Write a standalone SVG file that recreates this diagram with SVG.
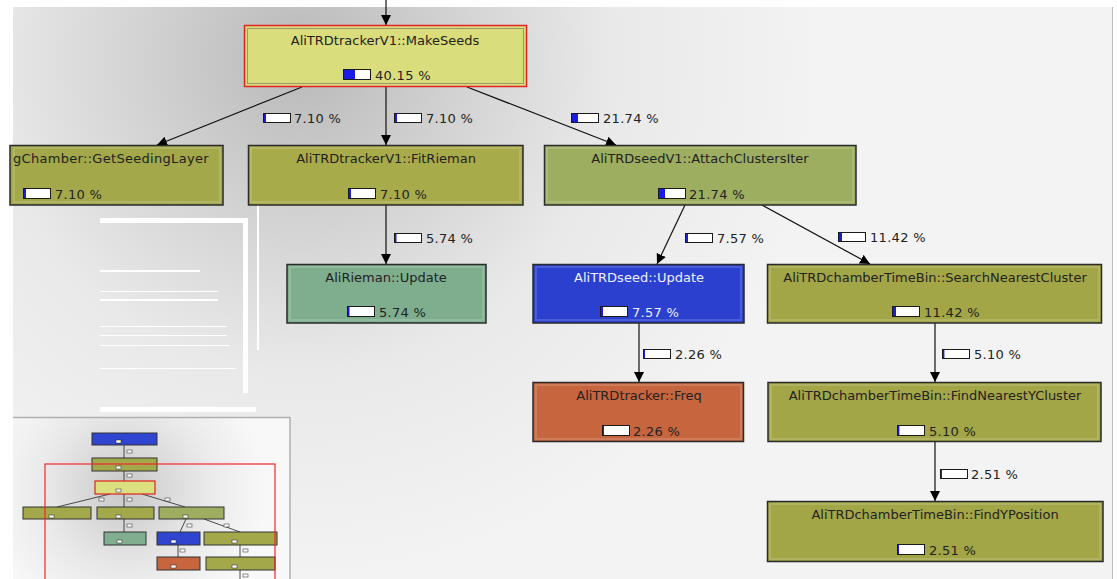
<svg xmlns="http://www.w3.org/2000/svg" width="1117" height="579" viewBox="0 0 1117 579">
<style>
.title{font-family:"DejaVu Sans",Verdana,sans-serif;font-size:13px;fill:#222;text-anchor:middle}
.pct{font-family:"DejaVu Sans",Verdana,sans-serif;font-size:13px;fill:#222;letter-spacing:0.3px}
.wt{fill:#eef0ff}
.node{stroke:#2a2a2a;stroke-width:1.5}
.inner{fill:none;stroke:#ffffff;stroke-opacity:0.15;stroke-width:2}
.bar{fill:#ffffff;stroke:#1a1a1a;stroke-width:1}
.fill{fill:#1b1be6}
.edge{fill:none;stroke:#111;stroke-width:1.2;marker-end:url(#arr)}
.art{fill:#ffffff}
.mm{stroke:#333;stroke-width:1}
.mme{stroke:#222;stroke-width:0.8;fill:none}
</style>
<defs>
<marker id="arr" markerWidth="11" markerHeight="11" refX="10" refY="5" orient="auto" markerUnits="userSpaceOnUse">
<path d="M0,0 L10,5 L0,10 z" fill="#000"/>
</marker>
<radialGradient id="bg" cx="300" cy="60" r="520" gradientUnits="userSpaceOnUse">
<stop offset="0" stop-color="#b9b9b9"/>
<stop offset="0.3" stop-color="#d2d2d2"/>
<stop offset="0.6" stop-color="#e9e9e9"/>
<stop offset="1" stop-color="#f3f3f3"/>
</radialGradient>
<radialGradient id="mmbg" cx="125" cy="490" r="140" gradientUnits="userSpaceOnUse">
<stop offset="0" stop-color="#c8c8c8"/>
<stop offset="0.6" stop-color="#eaeaea"/>
<stop offset="1" stop-color="#f8f8f8"/>
</radialGradient>
</defs>
<rect width="1117" height="579" fill="#ffffff"/>
<rect x="13" y="7" width="1099" height="572" fill="url(#bg)"/>
<line x1="1112.5" y1="7" x2="1112.5" y2="579" stroke="#bdbdbd" stroke-width="1"/>

<!-- artifacts -->
<g id="artifacts">
<rect class="art" x="100" y="218" width="148" height="5"/>
<rect class="art" x="243" y="218" width="5" height="175"/>
<rect class="art" x="100" y="270" width="100" height="2"/>
<rect class="art" x="100" y="291" width="118" height="1"/>
<rect class="art" x="100" y="299" width="118" height="2"/>
<rect class="art" x="100" y="326" width="127" height="1"/>
<rect class="art" x="100" y="335" width="127" height="1"/>
<rect class="art" x="100" y="345" width="129" height="1"/>
<rect class="art" x="100" y="368" width="136" height="1"/>
<rect class="art" x="100" y="407" width="156" height="5"/>
<rect class="art" x="257" y="145" width="2" height="205"/>
</g>

<!-- minimap -->
<g id="minimap">
<rect x="13" y="417" width="277" height="162" fill="url(#mmbg)"/>
<line x1="13" y1="417.5" x2="290" y2="417.5" stroke="#b0b0b0" stroke-width="1.5"/>
<line x1="290" y1="417" x2="290" y2="579" stroke="#b0b0b0" stroke-width="1.5"/>
<line class="mme" x1="124" y1="445" x2="124" y2="458"/>
<line class="mme" x1="124" y1="471" x2="124" y2="481"/>
<line class="mme" x1="110" y1="494" x2="57" y2="507"/>
<line class="mme" x1="124" y1="494" x2="124" y2="507"/>
<line class="mme" x1="142" y1="494" x2="185" y2="507"/>
<line class="mme" x1="124" y1="519" x2="124" y2="532"/>
<line class="mme" x1="186" y1="519" x2="180" y2="532"/>
<line class="mme" x1="204" y1="519" x2="240" y2="532"/>
<line class="mme" x1="178" y1="545" x2="178" y2="557"/>
<line class="mme" x1="240" y1="545" x2="240" y2="557"/>
<line class="mme" x1="240" y1="570" x2="240" y2="579"/>
<rect class="mm" x="92" y="433" width="65" height="12" fill="#2f45cf"/>
<rect class="mm" x="92" y="458" width="65" height="13" fill="#a3a84a"/>
<rect x="95" y="481" width="60" height="13" fill="#dde07f" stroke="#e02020" stroke-width="1.2"/>
<rect class="mm" x="23" y="507" width="68" height="12" fill="#a3a84a"/>
<rect class="mm" x="97" y="507" width="57" height="12" fill="#a3a84a"/>
<rect class="mm" x="159" y="507" width="65" height="12" fill="#9eae60"/>
<rect class="mm" x="104" y="532" width="42" height="13" fill="#80ae8e"/>
<rect class="mm" x="157" y="532" width="43" height="13" fill="#2f45cf"/>
<rect class="mm" x="204" y="532" width="73" height="13" fill="#a3a84a"/>
<rect class="mm" x="157" y="557" width="43" height="13" fill="#c7653f"/>
<rect class="mm" x="206" y="557" width="69" height="13" fill="#a3a84a"/>
<g fill="#ffffff" stroke="#222" stroke-width="0.5">
<rect x="116" y="440" width="5" height="3"/><rect x="116" y="466" width="5" height="3"/><rect x="116" y="489" width="5" height="3"/>
<rect x="49" y="515" width="5" height="3"/><rect x="116" y="515" width="5" height="3"/><rect x="183" y="515" width="5" height="3"/>
<rect x="117" y="540" width="5" height="3"/><rect x="171" y="540" width="5" height="3"/><rect x="232" y="540" width="5" height="3"/>
<rect x="171" y="565" width="5" height="3"/><rect x="232" y="565" width="5" height="3"/>
<rect x="127" y="450" width="5" height="3"/><rect x="127" y="474" width="5" height="3"/><rect x="99" y="498" width="5" height="3"/>
<rect x="127" y="498" width="5" height="3"/><rect x="165" y="498" width="5" height="3"/><rect x="127" y="524" width="5" height="3"/>
<rect x="187" y="524" width="5" height="3"/><rect x="224" y="524" width="5" height="3"/><rect x="180" y="549" width="5" height="3"/>
<rect x="243" y="549" width="5" height="3"/><rect x="243" y="574" width="5" height="3"/>
</g>
<rect x="45" y="464" width="230" height="120" fill="none" stroke="#ee2a2a" stroke-width="1.2"/>
</g>

<!-- connectors -->
<g id="connectors">
<line class="edge" x1="386" y1="0" x2="386" y2="25"/>
<line class="edge" x1="302" y1="87" x2="157" y2="145"/>
<line class="edge" x1="386" y1="87" x2="386" y2="145"/>
<line class="edge" x1="467" y1="87" x2="616" y2="145"/>
<line class="edge" x1="386" y1="205" x2="386" y2="264"/>
<line class="edge" x1="685" y1="205" x2="657" y2="264"/>
<line class="edge" x1="762" y1="205" x2="870" y2="264"/>
<line class="edge" x1="639" y1="323" x2="639" y2="382"/>
<line class="edge" x1="935" y1="323" x2="935" y2="382"/>
<line class="edge" x1="935" y1="442" x2="935" y2="501"/>
<g id="edge-labels">
<rect class="bar" x="263.5" y="113.5" width="27" height="9"/><rect class="fill" x="264" y="114" width="2" height="8"/><text class="pct" x="294" y="123">7.10 %</text>
<rect class="bar" x="394.5" y="113.5" width="27" height="9"/><rect class="fill" x="395" y="114" width="2" height="8"/><text class="pct" x="426" y="123">7.10 %</text>
<rect class="bar" x="571.5" y="113.5" width="27" height="9"/><rect class="fill" x="572" y="114" width="6" height="8"/><text class="pct" x="603" y="123">21.74 %</text>
<rect class="bar" x="394.5" y="233.5" width="27" height="9"/><rect class="fill" x="395" y="234" width="1.5" height="8"/><text class="pct" x="426" y="243">5.74 %</text>
<rect class="bar" x="685.5" y="233.5" width="27" height="9"/><rect class="fill" x="686" y="234" width="2" height="8"/><text class="pct" x="717" y="243">7.57 %</text>
<rect class="bar" x="838.5" y="232.5" width="27" height="9"/><rect class="fill" x="839" y="233" width="3" height="8"/><text class="pct" x="870" y="242">11.42 %</text>
<rect class="bar" x="643.5" y="349.5" width="27" height="9"/><rect class="fill" x="644" y="350" width="1" height="8"/><text class="pct" x="675" y="359">2.26 %</text>
<rect class="bar" x="942.5" y="349.5" width="27" height="9"/><rect class="fill" x="943" y="350" width="1.4" height="8"/><text class="pct" x="974" y="359">5.10 %</text>
<rect class="bar" x="940.5" y="469.5" width="27" height="9"/><rect class="fill" x="941" y="470" width="1" height="8"/><text class="pct" x="971" y="479">2.51 %</text>
</g>
</g>

<!-- nodes -->
<g id="node-makeseeds">
<rect x="244.5" y="25.5" width="282" height="61" fill="#dadd7c" stroke="#e52222" stroke-width="1.5"/>
<rect x="247.5" y="28.5" width="276" height="55" fill="none" stroke="#555" stroke-width="1" stroke-dasharray="1,1"/>
<text class="title" x="385" y="45">AliTRDtrackerV1::MakeSeeds</text>
<rect class="bar" x="343.5" y="69.5" width="27" height="10"/><rect class="fill" x="344" y="70" width="11" height="9"/>
<text class="pct" x="375" y="80">40.15 %</text>
</g>

<g id="node-getseedinglayer">
<rect class="node" x="10" y="145.5" width="213" height="59.5" fill="#a3a84a"/>
<rect class="inner" x="14" y="148" width="206" height="54"/>
<text class="pct" x="13" y="163">gChamber::GetSeedingLayer</text>
<rect class="bar" x="23.5" y="188.5" width="27" height="10"/><rect class="fill" x="24" y="189" width="2" height="9"/>
<text class="pct" x="55" y="199">7.10 %</text>
</g>

<g id="node-fitrieman">
<rect class="node" x="248.5" y="145.5" width="274.5" height="59.5" fill="#a8ab49"/>
<rect class="inner" x="251" y="148" width="269" height="54"/>
<text class="title" x="386" y="163">AliTRDtrackerV1::FitRieman</text>
<rect class="bar" x="348.5" y="188.5" width="27" height="10"/><rect class="fill" x="349" y="189" width="2" height="9"/>
<text class="pct" x="380" y="199">7.10 %</text>
</g>

<g id="node-attachclusters">
<rect class="node" x="544.5" y="145.5" width="311.5" height="59.5" fill="#9dae61"/>
<rect class="inner" x="547" y="148" width="306" height="54"/>
<text class="title" x="700" y="163">AliTRDseedV1::AttachClustersIter</text>
<rect class="bar" x="658.5" y="188.5" width="27" height="10"/><rect class="fill" x="659" y="189" width="6" height="9"/>
<text class="pct" x="689" y="199">21.74 %</text>
</g>

<g id="node-riemanupdate">
<rect class="node" x="287" y="264.5" width="199" height="58.5" fill="#7fae8e"/>
<rect class="inner" x="290" y="267" width="193" height="53"/>
<text class="title" x="386" y="282">AliRieman::Update</text>
<rect class="bar" x="347.5" y="306.5" width="27" height="10"/><rect class="fill" x="348" y="307" width="1.5" height="9"/>
<text class="pct" x="379" y="317">5.74 %</text>
</g>

<g id="node-seedupdate">
<rect class="node" x="533" y="264.5" width="211" height="58.5" fill="#2b40cf"/>
<rect class="inner" x="536" y="267" width="205" height="53"/>
<text class="title wt" x="639" y="282">AliTRDseed::Update</text>
<rect class="bar" x="600.5" y="306.5" width="27" height="10"/><rect class="fill" x="601" y="307" width="2" height="9"/>
<text class="pct wt" x="632" y="317">7.57 %</text>
</g>

<g id="node-searchnearest">
<rect class="node" x="767.5" y="264.5" width="334" height="58.5" fill="#a3a647"/>
<rect class="inner" x="770" y="267" width="329" height="53"/>
<text class="title" x="935" y="282">AliTRDchamberTimeBin::SearchNearestCluster</text>
<rect class="bar" x="892.5" y="306.5" width="27" height="10"/><rect class="fill" x="893" y="307" width="3" height="9"/>
<text class="pct" x="924" y="317">11.42 %</text>
</g>

<g id="node-freq">
<rect class="node" x="533" y="382.5" width="210.5" height="59" fill="#c7653f"/>
<rect class="inner" x="536" y="385" width="205" height="54"/>
<text class="title" x="639" y="400">AliTRDtracker::Freq</text>
<rect class="bar" x="602.5" y="425.5" width="27" height="10"/><rect class="fill" x="603" y="426" width="1" height="9"/>
<text class="pct" x="633" y="436">2.26 %</text>
</g>

<g id="node-findnearesty">
<rect class="node" x="768" y="382.5" width="333" height="59" fill="#a3a647"/>
<rect class="inner" x="771" y="385" width="327" height="54"/>
<text class="title" x="935" y="400">AliTRDchamberTimeBin::FindNearestYCluster</text>
<rect class="bar" x="897.5" y="425.5" width="27" height="10"/><rect class="fill" x="898" y="426" width="1.4" height="9"/>
<text class="pct" x="929" y="436">5.10 %</text>
</g>

<g id="node-findyposition">
<rect class="node" x="767.5" y="501.5" width="335.5" height="60" fill="#a3a647"/>
<rect class="inner" x="770" y="504" width="330" height="55"/>
<text class="title" x="935" y="519">AliTRDchamberTimeBin::FindYPosition</text>
<rect class="bar" x="897.5" y="544.5" width="27" height="10"/><rect class="fill" x="898" y="545" width="1" height="9"/>
<text class="pct" x="929" y="555">2.51 %</text>
</g>
</svg>
